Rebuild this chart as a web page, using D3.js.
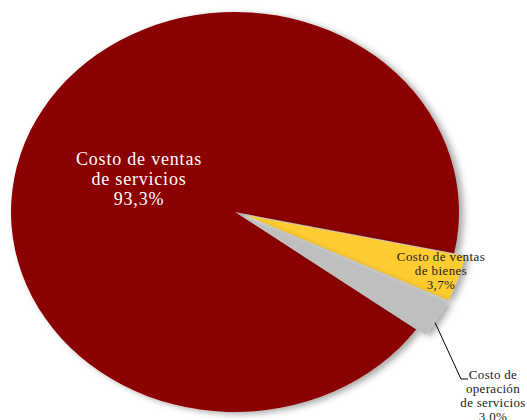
<!DOCTYPE html>
<html><head><meta charset="utf-8">
<script src="https://cdn.jsdelivr.net/npm/d3@7"></script>
<style>html,body{margin:0;padding:0;background:#fff;}svg{display:block;}</style>
</head><body>
<svg id="chart" width="527" height="420"></svg>
<script>
const categories = ["Costo de ventas de servicios", "Costo de ventas de bienes", "Costo de operación de servicios"];
const values = [93.3, 3.7, 3.0];
const valueLabels = ["93,3%", "3,7%", "3.0%"];
const labelLines = [["Costo de ventas", "de servicios"], ["Costo de ventas", "de bienes"], ["Costo de", "operación", "de servicios"]];
const colors = ["#8B0000", "#FFCC33", "#BFBFBF"];

const W = 527, H = 420;
const cx = 235, cy = 212, rx = 224, ry = 200, R = 100;
const svg = d3.select("#chart");

const defs = svg.append("defs");
const f = defs.append("filter").attr("id", "sh").attr("x", "-10%").attr("y", "-10%").attr("width", "120%").attr("height", "120%");
f.append("feDropShadow").attr("dx", 2).attr("dy", 1).attr("stdDeviation", 1.6).attr("flood-color", "#000").attr("flood-opacity", 0.35);

const data = categories.map((c, i) => ({cat: c, value: values[i], label: valueLabels[i], lines: labelLines[i], color: colors[i], explode: i === 0 ? 0 : 0.05}));

const startA = 126 * Math.PI / 180;
const pie = d3.pie().value(d => d.value).sort(null).startAngle(startA).endAngle(startA + 2 * Math.PI);
const arcs = pie(data);
const arc = d3.arc().innerRadius(0).outerRadius(R);

const g = svg.append("g").attr("transform", `translate(${cx},${cy}) scale(${rx / R},${ry / R})`);
g.selectAll("path").data(arcs).join("path")
  .attr("transform", d => {
    const m = (d.startAngle + d.endAngle) / 2;
    const off = d.data.explode * R;
    return `translate(${off * Math.sin(m)},${-off * Math.cos(m)})`;
  })
  .attr("d", arc)
  .attr("fill", d => d.data.color)
  .attr("filter", "url(#sh)");

const labelPos = [
  {x: 139, y: 165, size: 18, ls: 0.8, fill: "#fff", dy: 20},
  {x: 441, y: 261, size: 13, ls: 0.4, fill: "#1a1a1a", dy: 14},
  {x: 493, y: 379, size: 13, ls: 0.3, fill: "#1a1a1a", dy: 14}
];
arcs.forEach((d, i) => {
  const p = labelPos[i];
  const t = svg.append("text")
    .attr("text-anchor", "middle")
    .attr("font-family", "Liberation Serif")
    .attr("font-size", p.size)
    .attr("letter-spacing", p.ls)
    .attr("fill", p.fill);
  const lines = d.data.lines.concat([d.data.label]);
  lines.forEach((ln, j) => {
    t.append("tspan").attr("x", p.x).attr("y", p.y + j * p.dy).text(ln);
  });
});

// Leader line for the small grey slice
const gd = arcs[2];
const gm = (gd.startAngle + gd.endAngle) / 2;
const ge = 1.0 + gd.data.explode;
const sx = cx + rx * ge * Math.sin(gm + 0.02);
const sy = cy - ry * ge * Math.cos(gm + 0.02);
svg.append("path")
  .attr("d", `M${sx},${sy} L461,379 L468,379`)
  .attr("fill", "none").attr("stroke", "#000").attr("stroke-width", 1);
</script>
</body></html>
